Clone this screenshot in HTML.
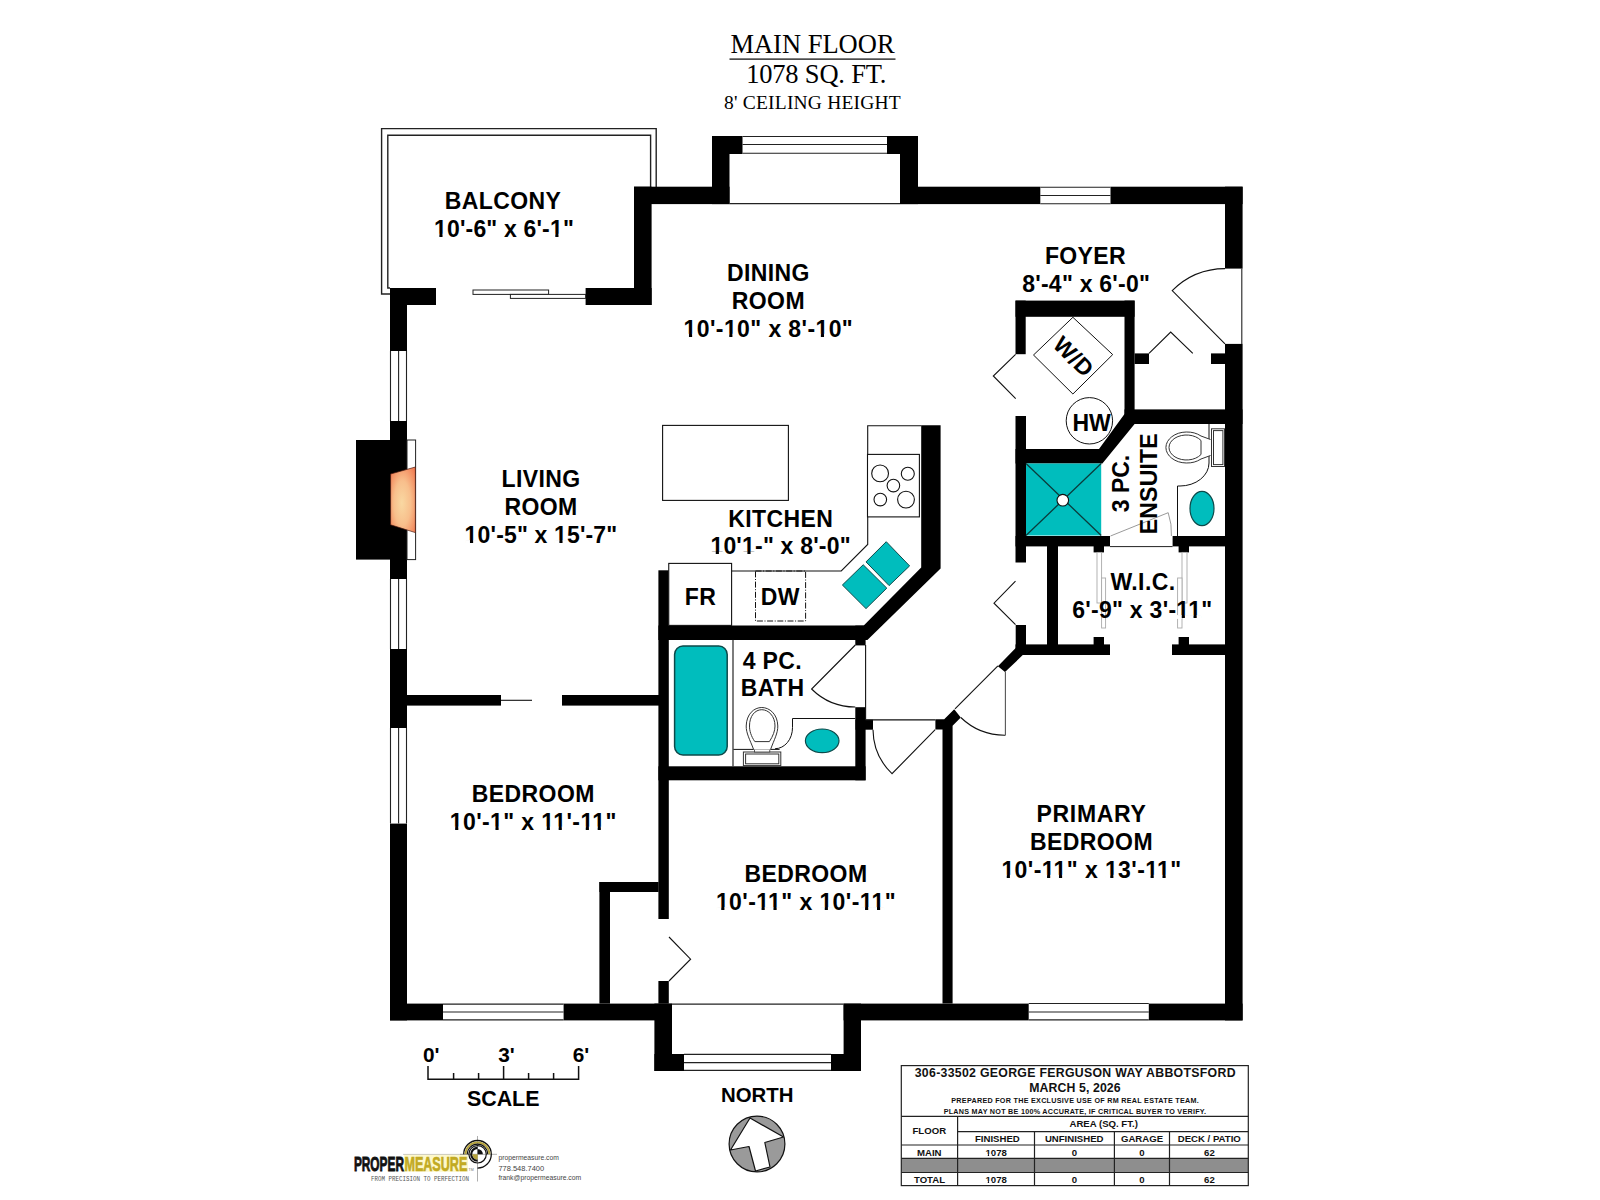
<!DOCTYPE html>
<html><head><meta charset="utf-8"><title>Main Floor</title>
<style>
html,body{margin:0;padding:0;background:#fff;width:1600px;height:1200px;overflow:hidden}
svg{display:block}
.lbl{font-family:"Liberation Sans",sans-serif;font-weight:bold;font-size:23px;fill:#000;text-anchor:middle;letter-spacing:0.4px}
.ser{font-family:"Liberation Serif",serif;fill:#000;text-anchor:middle}
</style></head><body>
<svg width="1600" height="1200" viewBox="0 0 1600 1200">
<rect width="1600" height="1200" fill="#fff"/>

<!-- TITLE -->
<g id="title">
<text class="ser" x="812.5" y="53" font-size="26.5">MAIN FLOOR</text>
<rect x="729.5" y="58.5" width="166" height="1.2" fill="#000"/>
<text class="ser" x="816.2" y="83" font-size="26.5" letter-spacing="-0.2">1078 SQ. FT.</text>
<text class="ser" x="812.5" y="109" font-size="19.5" letter-spacing="0.2">8' CEILING HEIGHT</text>
</g>

<!-- BALCONY RAILING -->
<g fill="none" stroke="#222" stroke-width="1.4">
<path d="M390 294 H381.6 V128.6 H656.2 V187"/>
<path d="M390 288 H387.8 V135.2 H650.6 V187"/>
</g>

<!-- WALLS -->
<g id="walls" fill="#000">
<!-- left exterior wall -->
<rect x="390" y="288" width="46" height="17"/>
<rect x="390" y="288" width="17" height="63"/>
<rect x="390" y="421" width="17" height="158"/>
<rect x="356" y="440" width="34" height="119.6"/>
<rect x="390" y="649" width="17" height="79"/>
<rect x="390" y="823.6" width="17" height="196.8"/>
<!-- bottom exterior wall -->
<rect x="390" y="1003.6" width="53" height="16.8"/>
<rect x="563.6" y="1003.6" width="108.4" height="16.8"/>
<rect x="654.4" y="1003.6" width="17.6" height="67.4"/>
<rect x="654.4" y="1054" width="29.6" height="17"/>
<rect x="831" y="1054" width="30" height="17"/>
<rect x="843.6" y="1003.6" width="17.4" height="67.4"/>
<rect x="843.6" y="1003.6" width="185.1" height="16.8"/>
<rect x="1148.8" y="1003.6" width="93.8" height="16.8"/>
<!-- right exterior wall -->
<rect x="1225" y="186.7" width="17.6" height="81.9"/>
<rect x="1225" y="343.9" width="17.6" height="676.5"/>
<!-- top exterior wall -->
<rect x="634" y="186.7" width="95.5" height="17.4"/>
<rect x="634" y="186.7" width="17.6" height="118.3"/>
<rect x="585.6" y="288" width="66" height="17"/>
<rect x="712" y="136" width="17.5" height="68.1"/>
<rect x="712" y="136" width="30.5" height="18"/>
<rect x="887" y="136" width="31" height="18"/>
<rect x="900" y="136" width="18" height="68.1"/>
<rect x="900" y="186.7" width="140.3" height="17.4"/>
<rect x="1110.5" y="186.7" width="132.1" height="17.4"/>

<!-- laundry closet -->
<rect x="1015.5" y="300.6" width="119.1" height="16.2"/>
<rect x="1015.5" y="300.6" width="10.2" height="53.6"/>
<rect x="1015.5" y="416" width="10.5" height="146.5"/>
<rect x="1124.5" y="300.6" width="10.1" height="123.4"/>
<rect x="1124.5" y="409.4" width="118" height="14.6"/>
<polygon points="1124.5,414 1134.6,424 1102.4,463.6 1015.5,463.6 1015.5,449 1099,449"/>
<!-- foyer closet stubs -->
<rect x="1134.6" y="353.4" width="14.4" height="10.6"/>
<rect x="1211" y="353.4" width="14" height="10.6"/>
<!-- ensuite bottom / WIC -->
<rect x="1015.5" y="536" width="94.5" height="10.4"/>
<rect x="1172.6" y="536" width="52.4" height="10.4"/>
<rect x="1047" y="546" width="11" height="109"/>
<rect x="1093.6" y="546" width="10.4" height="6.4"/>
<rect x="1178.6" y="546" width="10.4" height="6.4"/>
<rect x="1015.5" y="644.4" width="94.5" height="10.6"/>
<rect x="1172" y="644.4" width="53" height="10.6"/>
<rect x="1093.6" y="637" width="10.4" height="8"/>
<rect x="1178.6" y="637" width="10.4" height="8"/>
<!-- hallway lower wall + diag -->
<polygon points="1015.7,625 1026,625 1026,654.6 1023.3,654.6 1005,672.1 997.9,666.25 1015.7,648"/>
<polygon points="935.4,719.3 944.2,719.3 954.2,709.2 960.8,717.5 952.6,725.8 952.6,1003.6 942.5,1003.6 942.5,729.6 935.4,729.6"/>
<!-- bedroom2 door wall stubs -->
<rect x="855.5" y="719.7" width="17.5" height="10"/>
<!-- bath right wall -->
<rect x="855.3" y="625.6" width="10.3" height="19.8"/>
<rect x="855.3" y="707.2" width="10.3" height="73.1"/>
<!-- kitchen/bath wall + kitchen right wall -->
<polygon points="658.4,625.6 863.75,625.6 921.2,567.5 921.2,425.2 940.6,425.2 940.6,568.4 867.4,640 658.4,640"/>
<!-- kitchen/bath/bedroom2 left wall -->
<rect x="658.4" y="570.3" width="10.4" height="348.7"/>
<rect x="658.4" y="981" width="10.4" height="22.6"/>
<!-- living/bedroom1 partition -->
<rect x="406.6" y="695" width="94.4" height="10.6"/>
<rect x="562" y="695" width="97" height="10.6"/>
<!-- bath bottom wall -->
<rect x="658.4" y="766.3" width="207.2" height="14"/>
<!-- bedroom1 closet -->
<rect x="599.4" y="882" width="59.2" height="10"/>
<rect x="599.4" y="882" width="10.6" height="121.6"/>
</g>

<!-- WINDOWS (thin lines) -->
<g stroke="#222" stroke-width="1.1" fill="none">
<!-- left wall windows -->
<path d="M390.5 351 V421 M398.6 351 V421 M406.5 351 V421"/>
<path d="M390.5 579 V649 M398.6 579 V649 M406.5 579 V649"/>
<path d="M390.5 728 V823.6 M398.6 728 V823.6 M406.5 728 V823.6"/>
<!-- bottom windows -->
<path d="M443 1004.1 H563.6 M443 1012 H563.6 M443 1019.9 H563.6"/>
<path d="M684 1054.4 H831 M684 1062.6 H831 M684 1070.4 H831"/>
<path d="M672 1004.1 H843.6"/>
<path d="M1028.7 1003.5 H1148.8 M1028.7 1012 H1148.8 M1028.7 1019.9 H1148.8"/>
<!-- top windows -->
<path d="M742.5 136.5 H887 M742.5 144.5 H887 M742.5 153.3 H887"/>
<path d="M729.5 203.6 H900"/>
<path d="M1040.3 187.2 H1110.5 M1040.3 195.5 H1110.5 M1040.3 203.7 H1110.5"/>
<!-- entry threshold -->
<path d="M1241.8 268.6 V343.9"/>
</g>

<!-- DOORS -->
<g stroke="#111" stroke-width="1.1" fill="none">
<!-- entry door -->
<path d="M1225 343.9 L1172.2 290.6 A75 75 0 0 1 1225 268.6"/>
<!-- laundry bifold -->
<path d="M1015.6 354.4 L993.3 376 L1015.7 398.7"/>
<!-- foyer closet bifold -->
<path d="M1149 353.4 L1170.7 332 L1192.8 353.4"/>
<!-- hallway bifold -->
<path d="M1015.5 581.2 L994 603.2 L1015.5 624.7"/>
<!-- bedroom2 closet bifold -->
<path d="M669 937 L690.6 959.2 L669 981"/>
<!-- primary door -->
<path d="M997.9 665.9 L955 708.8"/>
<path d="M960.8 717.5 A63.5 63.5 0 0 0 1005.4 735.2"/>
<path d="M1005.4 735.2 V672" stroke="#555"/>
<!-- bath door -->
<path d="M855.3 645 L811.6 689 A62 62 0 0 0 855.3 707"/>
<path d="M865.6 645 V719.7"/>
<!-- bedroom2 door -->
<path d="M935.2 729.7 L892 773.7 A62 62 0 0 1 873 729.7"/>
<path d="M865.6 719.9 H935.4"/>
<!-- living/bedroom pocket -->
<path d="M501 700.3 H532"/>
</g>
<!-- ensuite door (light) -->
<g stroke="#9a9a9a" stroke-width="1" fill="none">
<path d="M1110.5 536 L1168.2 512.7 A62 62 0 0 1 1171.4 536"/>
</g>
<path d="M1110 546.6 H1172.6" stroke="#222" stroke-width="1"/>
<!-- WIC sliding doors -->
<g stroke="#aaa" stroke-width="0.9" fill="#fff">
<rect x="1097" y="552.4" width="4.6" height="50.6"/>
<rect x="1101.6" y="578" width="4" height="50"/>
<rect x="1182" y="552.4" width="5" height="50.6"/>
<rect x="1177.6" y="578" width="4.4" height="50"/>
</g>
<!-- balcony sliding door -->
<g stroke="#222" stroke-width="1" fill="#fff">
<rect x="473" y="290" width="75.6" height="4.4"/>
<rect x="510.4" y="294.4" width="75.2" height="4"/>
</g>

<!-- FIREPLACE -->
<defs>
<radialGradient id="fire" cx="0.5" cy="0.55" r="0.75" fx="0.45" fy="0.55">
<stop offset="0" stop-color="#f9d8a2"/>
<stop offset="0.45" stop-color="#f8bf8c"/>
<stop offset="1" stop-color="#f07048"/>
</radialGradient>
</defs>
<rect x="407" y="440" width="8.6" height="119.6" fill="#fff" stroke="#222" stroke-width="1"/>
<polygon points="390.6,474 415.4,467 415.4,532.6 390.6,524.8" fill="url(#fire)" stroke="#4a1810" stroke-width="0.7"/>

<!-- KITCHEN FIXTURES -->
<g stroke="#111" stroke-width="1.1" fill="#fff">
<rect x="662.6" y="425.4" width="125.8" height="75"/>
<path d="M921.3 425.7 H867.7 V544.5 L841.25 571 H731.6" fill="none"/>
<rect x="867.5" y="454.4" width="51.9" height="62.5"/>
<circle cx="880.1" cy="473.4" r="8.4"/>
<circle cx="907.8" cy="473.8" r="6.5"/>
<circle cx="893.4" cy="485.6" r="6.3"/>
<circle cx="880.3" cy="499.6" r="6.3"/>
<circle cx="906" cy="499.6" r="8.4"/>
<rect x="668.75" y="563.4" width="62.85" height="62"/>
</g>
<rect x="755.5" y="571" width="50.1" height="50" fill="none" stroke="#111" stroke-width="1" stroke-dasharray="6 1.6 1 1.6"/>
<g fill="#00bdbd" stroke="#0d4a4a" stroke-width="1">
<polygon points="886.25,541.7 909.6,565.9 889.1,585.6 866,561.9"/>
<polygon points="863.2,564.75 886.8,588.15 866,608.6 842.4,585"/>
</g>

<!-- BATH FIXTURES -->
<rect x="674.6" y="646" width="52.6" height="109" rx="8.4" fill="#00bdbd" stroke="#0d4a4a" stroke-width="1.5"/>
<path d="M733 639.7 V766.3" stroke="#111" stroke-width="1.1"/>
<g stroke="#111" stroke-width="1" fill="#fff">
<path d="M733.4 749.4 H779.6 M775.1 748.7 A17.4 21 0 0 0 792.5 727.6 V718.5 H855.3" fill="none"/>
<rect x="743.4" y="752" width="37.4" height="13.6" stroke="#333"/>
<rect x="745.6" y="754" width="33.2" height="9.8" stroke="#333"/>
<rect x="754.4" y="749.2" width="15.4" height="2.8" stroke="#333" stroke-width="0.8"/>
<path d="M753.6 749.4 C750 740 746 733 746.2 726 C746.5 714 754 707.5 761.8 707.5 C769.5 707.5 777.5 714 777.8 726 C778 733 774 740 770.6 749.4" stroke="#333"/>
<path d="M754.8 741.6 C751 736 749.5 731 749.5 726 C749.5 716 755 709.7 761.8 709.7 C768.5 709.7 775 716 775 726 C775 731 773 736 769.4 741.6 Z" stroke="#333"/>
</g>
<ellipse cx="822.2" cy="740.8" rx="16.8" ry="11.8" fill="#00bdbd" stroke="#0d4a4a" stroke-width="1.2"/>

<!-- ENSUITE / LAUNDRY FIXTURES -->
<g stroke="#111" stroke-width="1" fill="#fff">
<polygon points="1072.9,317.3 1112.7,354.6 1072.9,394 1033.5,355"/>
<circle cx="1089.4" cy="420.8" r="23.2"/>
<path d="M1177.5 536 V486 H1180 A29 23 0 0 0 1209 463 V424" fill="none"/>
<rect x="1211.5" y="428.8" width="13" height="37.7" stroke="#333"/>
<rect x="1213.5" y="430.6" width="9.4" height="34" stroke="#333"/>
<path d="M1210.5 439.5 L1201 436 A21 15.5 0 1 0 1201 459 L1210.5 455.5" stroke="#333"/>
<path d="M1201 440.5 A17.5 12.5 0 1 0 1201 454.5 Z" stroke="#333"/>
</g>
<rect x="1026" y="463.5" width="75.2" height="72" fill="#00bdbd"/>
<g stroke="#0d4a4a" stroke-width="1">
<path d="M1026 463.5 L1101.2 535.5 M1101.2 463.5 L1026 535.5" stroke-width="1.3" stroke="#0a3c3c"/>
</g>
<circle cx="1062.8" cy="500.2" r="5.8" fill="#fff" stroke="#111" stroke-width="1.1"/>
<ellipse cx="1202" cy="508.5" rx="12" ry="17.2" fill="#00bdbd" stroke="#0d4a4a" stroke-width="1.2"/>

<!-- LABELS -->
<g class="lblg">
<text class="lbl" x="503.1" y="209.25">BALCONY</text>
<text class="lbl" x="504" y="236.75" style="letter-spacing:0.17px">10'-6" x 6'-1"</text>
<text class="lbl" x="768.4" y="280.75">DINING</text>
<text class="lbl" x="768.4" y="308.75">ROOM</text>
<text class="lbl" x="768.4" y="336.75">10'-10" x 8'-10"</text>
<text class="lbl" x="1085.5" y="264.2">FOYER</text>
<text class="lbl" x="1086.2" y="291.9" style="letter-spacing:0.24px">8'-4" x 6'-0"</text>
<text class="lbl" x="541" y="487">LIVING</text>
<text class="lbl" x="541" y="515">ROOM</text>
<text class="lbl" x="541" y="543" style="letter-spacing:0.16px">10'-5" x 15'-7"</text>
<text class="lbl" x="780.8" y="527.2">KITCHEN</text>
<text class="lbl" x="780.6" y="554.4" style="letter-spacing:0.2px">10'1-" x 8'-0"</text>
<text class="lbl" x="700.6" y="604.6">FR</text>
<text class="lbl" x="780.3" y="604.6">DW</text>
<text class="lbl" x="1091.6" y="430.75" style="letter-spacing:0">HW</text>
<text class="lbl" x="1143" y="590.4">W.I.C.</text>
<text class="lbl" x="1142.3" y="618" style="letter-spacing:0.28px">6'-9" x 3'-11"</text>
<text class="lbl" x="772.4" y="668.75">4 PC.</text>
<text class="lbl" x="772.6" y="696">BATH</text>
<text class="lbl" x="533.3" y="801.6">BEDROOM</text>
<text class="lbl" x="533.3" y="829.6">10'-1" x 11'-11"</text>
<text class="lbl" x="806" y="882">BEDROOM</text>
<text class="lbl" x="806" y="910">10'-11" x 10'-11"</text>
<text class="lbl" x="1091.5" y="821.8" style="letter-spacing:0.7px">PRIMARY</text>
<text class="lbl" x="1091.5" y="849.8">BEDROOM</text>
<text class="lbl" x="1091.5" y="877.8">10'-11" x 13'-11"</text>
<text class="lbl" transform="translate(1073.6,356.6) rotate(45)" x="0" y="8">W/D</text>
<text class="lbl" transform="translate(1129,483.5) rotate(-90)" x="0" y="0" style="letter-spacing:0">3 PC.</text>
<text class="lbl" transform="translate(1156.5,483.7) rotate(-90)" x="0" y="0" style="letter-spacing:0.2px">ENSUITE</text>
</g>

<!-- SCALE -->
<g>
<text class="lbl" x="431.3" y="1062.4" style="font-size:20.8px;letter-spacing:0">0'</text>
<text class="lbl" x="506.4" y="1062.4" style="font-size:20.8px;letter-spacing:0">3'</text>
<text class="lbl" x="581" y="1062.4" style="font-size:20.8px;letter-spacing:0">6'</text>
<path d="M428 1066 V1079.2 H578.6 V1066 M503.6 1066 V1079 M453.6 1073 V1079 M478.6 1073 V1079 M528.6 1073 V1079 M553.6 1073 V1079" stroke="#111" stroke-width="1.5" fill="none"/>
<text class="lbl" x="503.2" y="1105.9" style="font-size:21.4px;letter-spacing:0">SCALE</text>
</g>

<!-- NORTH -->
<g>
<text class="lbl" x="757.2" y="1101.5" style="font-size:20.4px;letter-spacing:0">NORTH</text>
<circle cx="757" cy="1144" r="27.9" fill="#9a9a9a" stroke="#111" stroke-width="1.2"/>
<polygon points="750,1118 783.5,1137 764.8,1142.5 770,1167 755.5,1171 749,1146.5 730.5,1150" fill="#fff" stroke="#111" stroke-width="1.2" stroke-linejoin="round"/>
</g>

<!-- TABLE -->
<g font-family="Liberation Sans, sans-serif" font-weight="bold" fill="#111" text-anchor="middle">
<rect x="958" y="1158.3" width="290" height="14.2" fill="#8e8e8e"/>
<rect x="901.3" y="1158.3" width="56.5" height="14.2" fill="#8e8e8e"/>
<g stroke="#222" stroke-width="1.2" fill="none">
<rect x="901.3" y="1065.6" width="347" height="120"/>
<path d="M901.3 1116.3 H1248.3 M957.6 1131.6 H1248.3 M901.3 1145 H1248.3 M901.3 1158.3 H1248.3 M901.3 1172.5 H1248.3"/>
<path d="M957.6 1116.3 V1185.6 M1034.5 1131.6 V1185.6 M1114.4 1131.6 V1185.6 M1169.5 1131.6 V1185.6"/>
</g>
<text x="1075.3" y="1076.9" font-size="12.3" letter-spacing="0.3">306-33502 GEORGE FERGUSON WAY ABBOTSFORD</text>
<text x="1075" y="1092" font-size="12.3" letter-spacing="0.1">MARCH 5, 2026</text>
<text x="1075.2" y="1103.4" font-size="7.2" letter-spacing="0.28">PREPARED FOR THE EXCLUSIVE USE OF RM REAL ESTATE TEAM.</text>
<text x="1075" y="1114" font-size="7.2" letter-spacing="0.27">PLANS MAY NOT BE 100% ACCURATE, IF CRITICAL BUYER TO VERIFY.</text>
<text x="1103.7" y="1126.8" font-size="9.6">AREA (SQ. FT.)</text>
<text x="929.3" y="1134" font-size="9.6">FLOOR</text>
<text x="997.4" y="1142" font-size="9.6">FINISHED</text>
<text x="1074.2" y="1142" font-size="9.6">UNFINISHED</text>
<text x="1142" y="1142" font-size="9.6">GARAGE</text>
<text x="1209.3" y="1142" font-size="9.6">DECK / PATIO</text>
<text x="929.3" y="1155.6" font-size="9.6">MAIN</text>
<text x="996.2" y="1155.6" font-size="9.6">1078</text>
<text x="1074.3" y="1155.6" font-size="9.6">0</text>
<text x="1141.8" y="1155.6" font-size="9.6">0</text>
<text x="1209.4" y="1155.6" font-size="9.6">62</text>
<text x="929.5" y="1182.6" font-size="9.6">TOTAL</text>
<text x="996.2" y="1182.6" font-size="9.6">1078</text>
<text x="1074.3" y="1182.6" font-size="9.6">0</text>
<text x="1141.8" y="1182.6" font-size="9.6">0</text>
<text x="1209.4" y="1182.6" font-size="9.6">62</text>
</g>

<!-- ARIAL-STYLE ONES (hide Liberation foot) -->
<g fill="#fff">
<rect x="434.46" y="233.80" width="4.92" height="3.85"/>
<rect x="442.53" y="233.80" width="4.63" height="3.85"/>
<rect x="550.39" y="233.80" width="4.92" height="3.85"/>
<rect x="558.47" y="233.80" width="4.63" height="3.85"/>
<rect x="684.05" y="333.80" width="4.92" height="3.85"/>
<rect x="692.13" y="333.80" width="4.63" height="3.85"/>
<rect x="724.35" y="333.80" width="4.92" height="3.85"/>
<rect x="732.42" y="333.80" width="4.63" height="3.85"/>
<rect x="815.94" y="333.80" width="4.92" height="3.85"/>
<rect x="824.02" y="333.80" width="4.63" height="3.85"/>
<rect x="465.05" y="540.05" width="4.92" height="3.85"/>
<rect x="473.13" y="540.05" width="4.63" height="3.85"/>
<rect x="554.46" y="540.05" width="4.92" height="3.85"/>
<rect x="562.53" y="540.05" width="4.63" height="3.85"/>
<rect x="710.85" y="551.45" width="4.92" height="3.85"/>
<rect x="718.92" y="551.45" width="4.63" height="3.85"/>
<rect x="742.49" y="551.45" width="4.92" height="3.85"/>
<rect x="750.56" y="551.45" width="4.63" height="3.85"/>
<rect x="1176.81" y="615.05" width="4.92" height="3.85"/>
<rect x="1184.89" y="615.05" width="4.63" height="3.85"/>
<rect x="1188.61" y="615.05" width="4.92" height="3.85"/>
<rect x="1196.68" y="615.05" width="4.63" height="3.85"/>
<rect x="450.23" y="826.65" width="4.92" height="3.85"/>
<rect x="458.30" y="826.65" width="4.63" height="3.85"/>
<rect x="490.52" y="826.65" width="4.92" height="3.85"/>
<rect x="498.60" y="826.65" width="4.63" height="3.85"/>
<rect x="541.80" y="826.65" width="4.92" height="3.85"/>
<rect x="549.88" y="826.65" width="4.63" height="3.85"/>
<rect x="553.73" y="826.65" width="4.92" height="3.85"/>
<rect x="561.80" y="826.65" width="4.63" height="3.85"/>
<rect x="580.83" y="826.65" width="4.92" height="3.85"/>
<rect x="588.91" y="826.65" width="4.63" height="3.85"/>
<rect x="592.76" y="826.65" width="4.92" height="3.85"/>
<rect x="600.83" y="826.65" width="4.63" height="3.85"/>
<rect x="716.33" y="907.05" width="4.92" height="3.85"/>
<rect x="724.41" y="907.05" width="4.63" height="3.85"/>
<rect x="756.63" y="907.05" width="4.92" height="3.85"/>
<rect x="764.70" y="907.05" width="4.63" height="3.85"/>
<rect x="768.55" y="907.05" width="4.92" height="3.85"/>
<rect x="776.63" y="907.05" width="4.63" height="3.85"/>
<rect x="819.83" y="907.05" width="4.92" height="3.85"/>
<rect x="827.91" y="907.05" width="4.63" height="3.85"/>
<rect x="860.14" y="907.05" width="4.92" height="3.85"/>
<rect x="868.22" y="907.05" width="4.63" height="3.85"/>
<rect x="872.07" y="907.05" width="4.92" height="3.85"/>
<rect x="880.14" y="907.05" width="4.63" height="3.85"/>
<rect x="1001.83" y="874.85" width="4.92" height="3.85"/>
<rect x="1009.91" y="874.85" width="4.63" height="3.85"/>
<rect x="1042.13" y="874.85" width="4.92" height="3.85"/>
<rect x="1050.20" y="874.85" width="4.63" height="3.85"/>
<rect x="1054.05" y="874.85" width="4.92" height="3.85"/>
<rect x="1062.13" y="874.85" width="4.63" height="3.85"/>
<rect x="1105.33" y="874.85" width="4.92" height="3.85"/>
<rect x="1113.41" y="874.85" width="4.63" height="3.85"/>
<rect x="1145.64" y="874.85" width="4.92" height="3.85"/>
<rect x="1153.72" y="874.85" width="4.63" height="3.85"/>
<rect x="1157.57" y="874.85" width="4.92" height="3.85"/>
<rect x="1165.64" y="874.85" width="4.63" height="3.85"/>
<rect x="985.13" y="1154.02" width="2.64" height="2.48"/>
<rect x="989.09" y="1154.02" width="2.51" height="2.48"/>
<rect x="985.13" y="1181.02" width="2.64" height="2.48"/>
<rect x="989.09" y="1181.02" width="2.51" height="2.48"/>
</g>
<!-- LOGO -->
<g>
<rect x="404" y="1154.2" width="64" height="17.6" fill="#fdf8cc"/>
<path d="M403 1154.4 H470" stroke="#aaa" stroke-width="0.6"/>
<text transform="translate(353.9,1171.3) scale(0.565,1)" font-family="Liberation Sans, sans-serif" font-weight="bold" font-size="21" fill="#111" stroke="#111" stroke-width="0.9">PROPER</text>
<text transform="translate(404.4,1171.3) scale(0.6,1)" font-family="Liberation Sans, sans-serif" font-weight="bold" font-size="21" fill="#c2aa22" stroke="#c2aa22" stroke-width="0.7">MEASURE</text>
<text x="468.6" y="1171.3" font-family="Liberation Sans, sans-serif" font-size="3.6" fill="#777">TM</text>
<text x="371.1" y="1180.7" font-family="Liberation Mono, monospace" font-size="6.6" fill="#555" textLength="98" lengthAdjust="spacingAndGlyphs">FROM PRECISION TO PERFECTION</text>
<path d="M477.5 1136 V1181.5 M460 1154.3 H497" stroke="#777" stroke-width="0.6" fill="none"/>
<g fill="none">
<path d="M463.7 1154.3 A13.8 13.8 0 1 1 477.5 1168.1" stroke="#111" stroke-width="1.3"/>
<path d="M465.6 1154.3 A11.9 11.9 0 0 1 489.4 1154.3" stroke="#b5a23a" stroke-width="2"/>
<path d="M467.3 1154.3 A10.2 10.2 0 0 1 487.7 1154.3" stroke="#111" stroke-width="1.1"/>
<circle cx="477.6" cy="1154.3" r="8.7" stroke="#111" stroke-width="1.2"/>
</g>
<path d="M477.6 1146.8 A7.5 7.5 0 0 0 477.6 1161.8 L477.6 1159.6 A5.3 5.3 0 0 1 477.6 1149 Z" fill="#111"/>
<path d="M477.6 1149 A5.3 5.3 0 0 1 482.9 1154.3 H477.6 Z" fill="#111"/>
<path d="M477.6 1159.6 A5.3 5.3 0 0 1 472.3 1154.3 H477.6 Z" fill="#b5a23a"/>
<g font-family="Liberation Sans, sans-serif" font-size="7" fill="#444">
<text x="498.4" y="1160.3" textLength="60.4" lengthAdjust="spacingAndGlyphs">propermeasure.com</text>
<text x="498.4" y="1170.5" textLength="45.8" lengthAdjust="spacingAndGlyphs">778.548.7400</text>
<text x="498.4" y="1180.4" textLength="82.8" lengthAdjust="spacingAndGlyphs">frank@propermeasure.com</text>
</g>
</g>
</svg>
</body></html>
